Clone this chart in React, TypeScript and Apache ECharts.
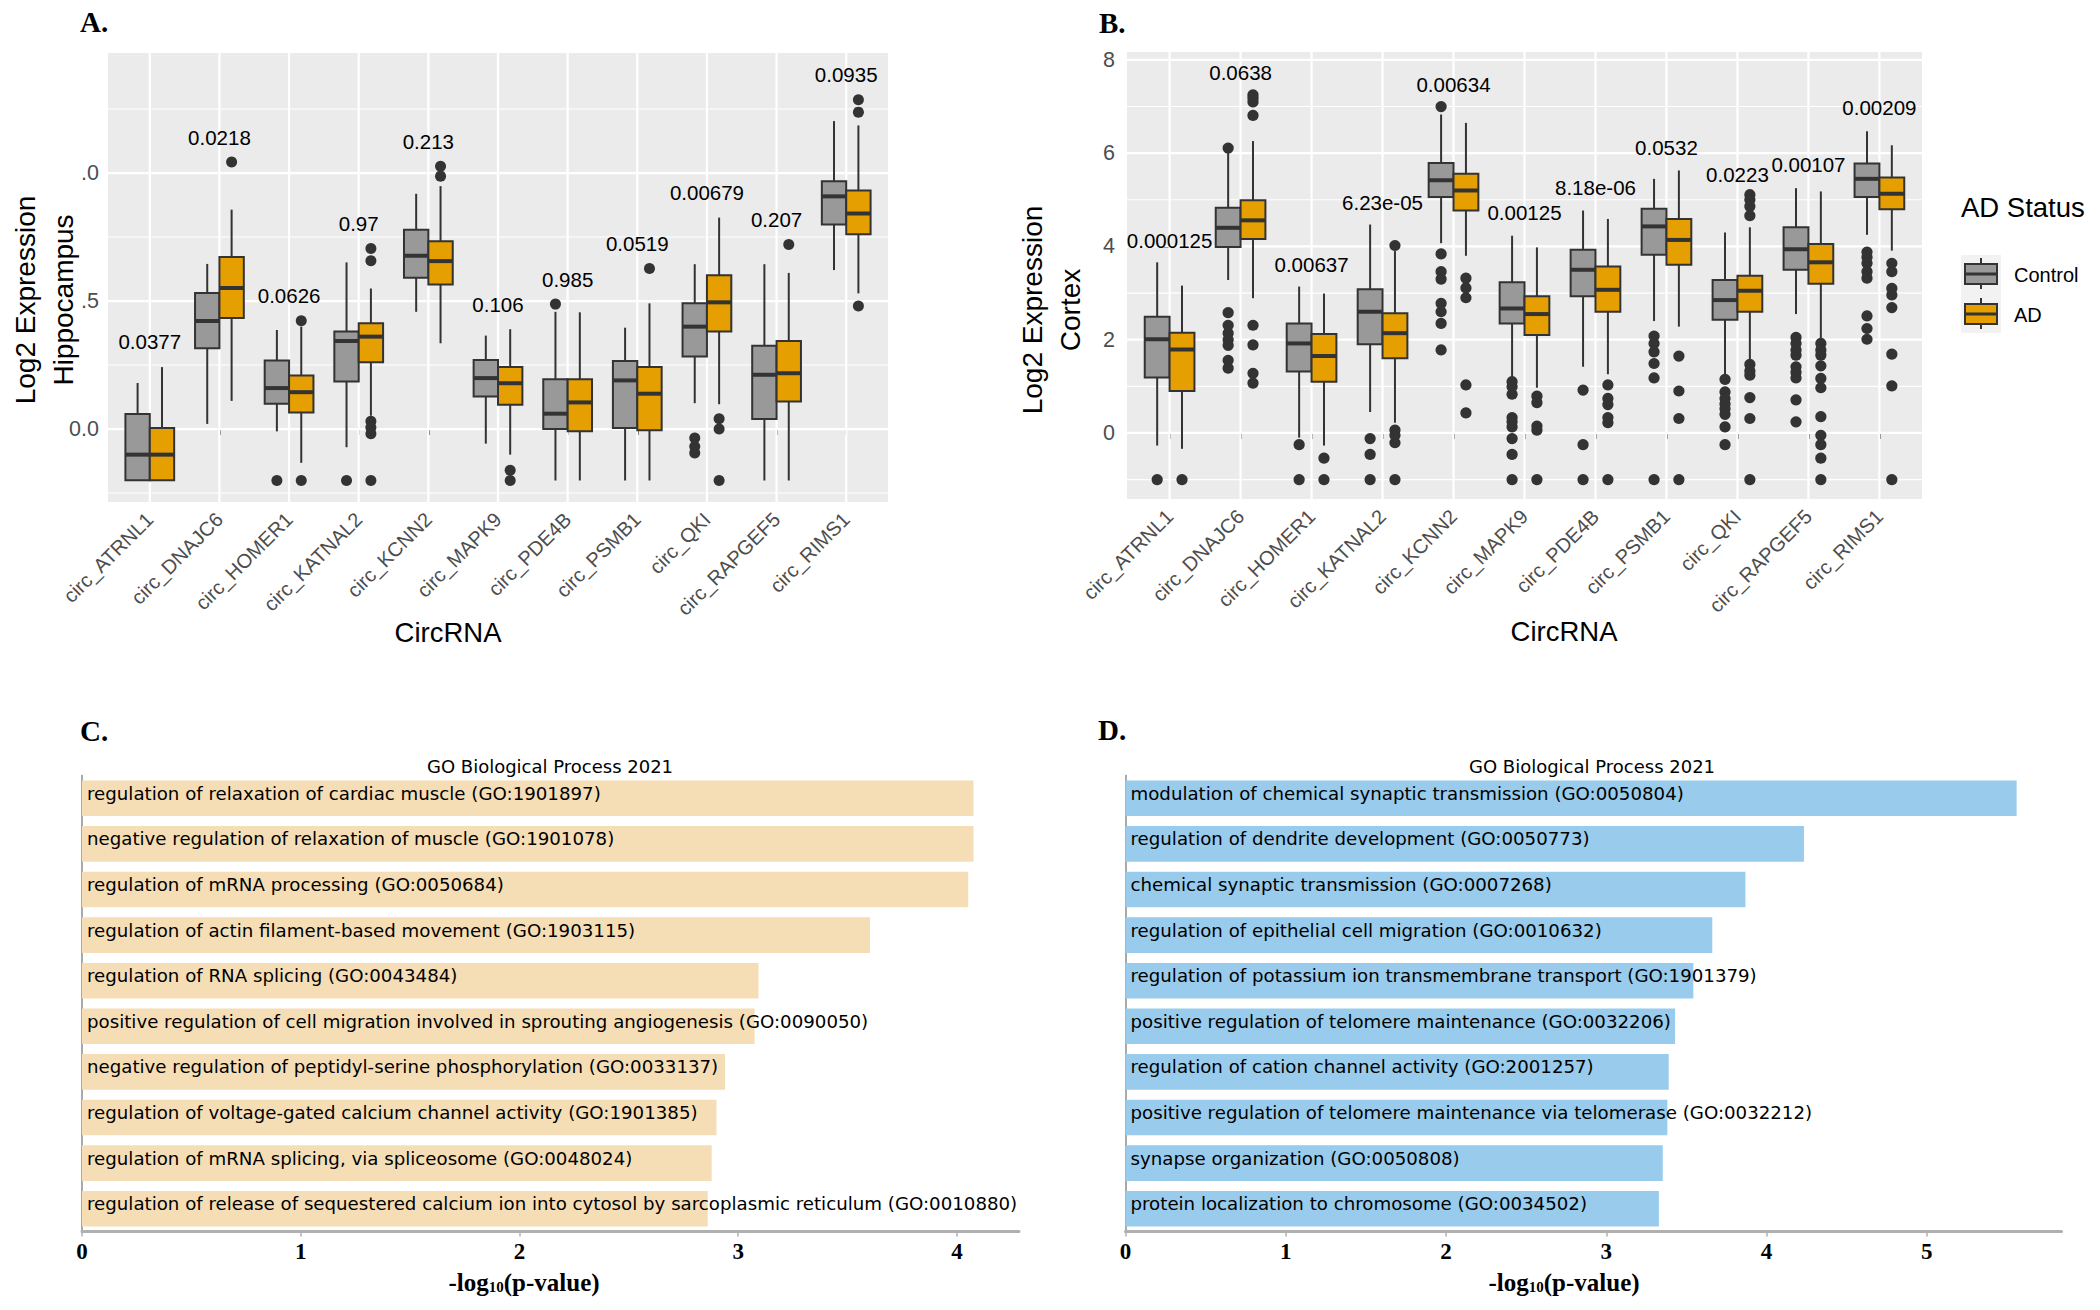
import React, { useEffect, useRef } from 'react';
import * as echarts from 'echarts';

// ---------- Data ----------
const circNames = [
  'circ_ATRNL1', 'circ_DNAJC6', 'circ_HOMER1', 'circ_KATNAL2', 'circ_KCNN2', 'circ_MAPK9',
  'circ_PDE4B', 'circ_PSMB1', 'circ_QKI', 'circ_RAPGEF5', 'circ_RIMS1',
];
const catIdx = [0, 1, 2, 3, 4, 5, 6, 7, 8, 9, 10];

// Panel A (Hippocampus): [lower whisker, Q1, median, Q3, upper whisker]
const hipControl = [
  [-0.2, -0.2, -0.1, 0.059, 0.18],
  [0.02, 0.316, 0.422, 0.531, 0.645],
  [-0.009, 0.099, 0.16, 0.268, 0.387],
  [-0.071, 0.186, 0.344, 0.381, 0.651],
  [0.458, 0.591, 0.677, 0.779, 0.919],
  [-0.057, 0.127, 0.199, 0.27, 0.365],
  [-0.201, 0.0, 0.06, 0.195, 0.458],
  [-0.201, 0.004, 0.19, 0.266, 0.396],
  [0.101, 0.283, 0.4, 0.491, 0.644],
  [-0.201, 0.039, 0.212, 0.325, 0.644],
  [0.621, 0.799, 0.909, 0.968, 1.203],
];
const hipAD = [
  [-0.2, -0.2, -0.1, 0.004, 0.242],
  [0.11, 0.434, 0.551, 0.672, 0.857],
  [-0.132, 0.065, 0.144, 0.209, 0.4],
  [0.052, 0.261, 0.361, 0.413, 0.549],
  [0.335, 0.565, 0.656, 0.734, 0.949],
  [-0.1, 0.095, 0.179, 0.242, 0.39],
  [-0.201, -0.009, 0.104, 0.195, 0.456],
  [-0.201, -0.005, 0.138, 0.242, 0.491],
  [0.097, 0.381, 0.495, 0.601, 0.826],
  [-0.201, 0.108, 0.218, 0.344, 0.61],
  [0.53, 0.761, 0.842, 0.932, 1.186],
];
const hipControlOut = [[], [], [-0.201], [-0.201], [], [], [0.488], [], [-0.035, -0.068, -0.094], [], []];
const hipADOut = [[], [1.043], [0.423, -0.201], [0.705, 0.657, 0.03, 0.006, -0.018, -0.201], [1.027, 0.988], [-0.161, -0.201], [], [0.627], [0.04, 0.0, -0.201], [0.721], [1.286, 1.238, 0.481]];
const hipPLabels = ['0.0377', '0.0218', '0.0626', '0.97', '0.213', '0.106', '0.985', '0.0519', '0.00679', '0.207', '0.0935'];
const hipPLabelY = [0.341, 1.138, 0.521, 0.803, 1.125, 0.487, 0.584, 0.725, 0.926, 0.818, 1.384];
const hipYTicks = [0, 0.5, 1];
const hipYTickLabels = ['0.0', '.5', '.0'];
const hipYMinor = [-0.25, 0.25, 0.75, 1.25];

// Panel B (Cortex)
const ctxControl = [
  [-0.27, 1.19, 2.01, 2.49, 3.66],
  [3.28, 3.99, 4.4, 4.83, 6.0],
  [-0.1, 1.32, 1.92, 2.35, 3.14],
  [0.45, 1.9, 2.6, 3.08, 4.47],
  [4.07, 5.06, 5.42, 5.79, 6.83],
  [1.15, 2.35, 2.67, 3.23, 4.23],
  [1.42, 2.93, 3.5, 3.93, 4.77],
  [2.4, 3.82, 4.43, 4.81, 5.45],
  [1.24, 2.43, 2.85, 3.28, 4.3],
  [2.55, 3.5, 3.94, 4.41, 5.25],
  [4.25, 5.06, 5.45, 5.78, 6.47],
];
const ctxAD = [
  [-0.34, 0.9, 1.79, 2.15, 3.16],
  [2.89, 4.16, 4.56, 4.99, 6.26],
  [-0.27, 1.1, 1.65, 2.12, 2.99],
  [0.22, 1.6, 2.14, 2.57, 3.9],
  [3.8, 4.77, 5.2, 5.56, 6.65],
  [0.97, 2.1, 2.55, 2.93, 3.98],
  [1.26, 2.6, 3.07, 3.57, 4.59],
  [2.28, 3.61, 4.14, 4.59, 5.63],
  [1.53, 2.6, 3.05, 3.37, 4.41],
  [2.01, 3.2, 3.66, 4.05, 5.18],
  [3.91, 4.8, 5.13, 5.48, 6.17],
];
const ctxControlOut = [
  [-1.0],
  [6.11, 2.58, 2.31, 2.14, 2.0, 1.88, 1.56, 1.39],
  [-0.25, -1.0],
  [-0.12, -0.46, -1.0],
  [7.0, 3.84, 3.46, 3.3, 2.78, 2.6, 2.35, 1.78],
  [1.1, 0.99, 0.83, 0.33, 0.24, 0.13, -0.12, -0.46, -1.0],
  [0.92, -0.25, -1.0],
  [2.08, 1.92, 1.74, 1.49, 1.18, -1.0],
  [1.15, 0.88, 0.74, 0.62, 0.52, 0.4, 0.13, -0.25],
  [2.05, 1.92, 1.78, 1.67, 1.42, 1.3, 1.18, 0.71, 0.24],
  [3.88, 3.77, 3.64, 3.46, 3.32, 2.51, 2.24, 2.01],
];
const ctxADOut = [
  [-1.0],
  [7.25, 7.18, 7.1, 6.81, 2.31, 1.89, 1.28, 1.07],
  [-0.54, -1.0],
  [4.02, 0.06, -0.05, -0.21, -1.0],
  [3.32, 3.11, 2.9, 1.03, 0.43],
  [0.79, 0.65, 0.15, 0.06, -1.0],
  [1.03, 0.74, 0.61, 0.33, 0.22, -1.0],
  [1.65, 0.9, 0.31, -1.0],
  [5.11, 5.0, 4.86, 4.66, 1.47, 1.33, 1.24, 0.76, 0.31, -1.0],
  [1.92, 1.78, 1.67, 1.44, 1.17, 0.97, 0.35, -0.05, -0.25, -0.54, -1.0],
  [3.64, 3.46, 3.1, 2.96, 2.69, 1.69, 1.01, -1.0],
];
const ctxPLabels = ['0.000125', '0.0638', '0.00637', '6.23e-05', '0.00634', '0.00125', '8.18e-06', '0.0532', '0.0223', '0.00107', '0.00209'];
const ctxPLabelY = [4.13, 7.73, 3.62, 4.95, 7.48, 4.72, 5.27, 6.13, 5.54, 5.76, 6.97];
const ctxYTicks = [0, 2, 4, 6, 8];
const ctxYTickLabels = ['0', '2', '4', '6', '8'];
const ctxYMinor = [-1, 1, 3, 5, 7];

// Panels C / D (GO Biological Process 2021)
const goTermsC = [
  'regulation of relaxation of cardiac muscle (GO:1901897)',
  'negative regulation of relaxation of muscle (GO:1901078)',
  'regulation of mRNA processing (GO:0050684)',
  'regulation of actin filament-based movement (GO:1903115)',
  'regulation of RNA splicing (GO:0043484)',
  'positive regulation of cell migration involved in sprouting angiogenesis (GO:0090050)',
  'negative regulation of peptidyl-serine phosphorylation (GO:0033137)',
  'regulation of voltage-gated calcium channel activity (GO:1901385)',
  'regulation of mRNA splicing, via spliceosome (GO:0048024)',
  'regulation of release of sequestered calcium ion into cytosol by sarcoplasmic reticulum (GO:0010880)',
];
const goValuesC = [4.076, 4.076, 4.052, 3.603, 3.093, 3.075, 2.94, 2.901, 2.879, 2.861];
const goTermsD = [
  'modulation of chemical synaptic transmission (GO:0050804)',
  'regulation of dendrite development (GO:0050773)',
  'chemical synaptic transmission (GO:0007268)',
  'regulation of epithelial cell migration (GO:0010632)',
  'regulation of potassium ion transmembrane transport (GO:1901379)',
  'positive regulation of telomere maintenance (GO:0032206)',
  'regulation of cation channel activity (GO:2001257)',
  'positive regulation of telomere maintenance via telomerase (GO:0032212)',
  'synapse organization (GO:0050808)',
  'protein localization to chromosome (GO:0034502)',
];
const goValuesD = [5.56, 4.233, 3.868, 3.661, 3.543, 3.429, 3.389, 3.381, 3.352, 3.328];
const goTicksC = [0, 1, 2, 3, 4];
const goTicksD = [0, 1, 2, 3, 4, 5];

// ---------- Helpers ----------
const SANS = 'Liberation Sans';
const SERIF = 'Liberation Serif';
const fills = ['#999999', '#E69F00'];
const X_RANGE = [-0.6, 10.6];
const yRangeA = [-0.285, 1.469];
const yRangeB = [-1.416, 8.17];

const boxData = (ctrl: number[][], ad: number[][]) => {
  const out: number[][] = [];
  ctrl.forEach((b, i) => out.push([i, 0, ...b]));
  ad.forEach((b, i) => out.push([i, 1, ...b]));
  return out;
};
const outData = (ctrl: number[][], ad: number[][]) => {
  const out: number[][] = [];
  ctrl.forEach((arr, i) => arr.forEach((v) => out.push([i, 0, v])));
  ad.forEach((arr, i) => arr.forEach((v) => out.push([i, 1, v])));
  return out;
};
const gridData = (major: number[], minor: number[]) => {
  const out: number[][] = [];
  minor.forEach((v) => out.push([0, v, 1.1]));
  major.forEach((v) => out.push([0, v, 2.2]));
  catIdx.forEach((v) => out.push([1, v, 2.2]));
  return out;
};

const BOX_FRAC = 0.35;

const boxRender = (params: any, api: any) => {
  const i = api.value(0);
  const g = api.value(1);
  const unit = api.size([1, 0])[0];
  const w = BOX_FRAC * unit;
  const cx = api.coord([i, 0])[0] + (g === 0 ? -w / 2 : w / 2);
  const y = (v: number) => api.coord([i, v])[1];
  const lo = y(api.value(2));
  const q1 = y(api.value(3));
  const md = y(api.value(4));
  const q3 = y(api.value(5));
  const hi = y(api.value(6));
  const stroke = '#333333';
  return {
    type: 'group',
    children: [
      { type: 'line', shape: { x1: cx, y1: hi, x2: cx, y2: q3 }, style: { stroke, lineWidth: 2 } },
      { type: 'line', shape: { x1: cx, y1: q1, x2: cx, y2: lo }, style: { stroke, lineWidth: 2 } },
      {
        type: 'rect',
        shape: { x: cx - w / 2, y: q3, width: w, height: Math.max(q1 - q3, 0.5) },
        style: { fill: fills[g], stroke, lineWidth: 2 },
      },
      { type: 'line', shape: { x1: cx - w / 2, y1: md, x2: cx + w / 2, y2: md }, style: { stroke, lineWidth: 4 } },
    ],
  };
};

const outRender = (r: number) => (params: any, api: any) => {
  const i = api.value(0);
  const g = api.value(1);
  const unit = api.size([1, 0])[0];
  const w = BOX_FRAC * unit;
  const p = api.coord([i, api.value(2)]);
  return {
    type: 'circle',
    shape: { cx: p[0] + (g === 0 ? -w / 2 : w / 2), cy: p[1], r },
    style: { fill: '#333333' },
  };
};

const gridRender = (yr: number[]) => (params: any, api: any) => {
  const kind = api.value(0);
  const v = api.value(1);
  const lw = api.value(2);
  let p1, p2;
  if (kind === 0) {
    p1 = api.coord([X_RANGE[0], v]);
    p2 = api.coord([X_RANGE[1], v]);
  } else {
    p1 = api.coord([v, yr[0]]);
    p2 = api.coord([v, yr[1]]);
  }
  return {
    type: 'line',
    shape: { x1: p1[0], y1: p1[1], x2: p2[0], y2: p2[1] },
    style: { stroke: '#FFFFFF', lineWidth: lw },
    silent: true,
  };
};

const labelRender = (labels: string[]) => (params: any, api: any) => {
  const p = api.coord([api.value(0), api.value(1)]);
  return {
    type: 'text',
    x: p[0],
    y: p[1],
    style: {
      text: labels[params.dataIndex],
      fontSize: 20.5,
      fontFamily: SANS,
      fill: '#000000',
      align: 'center',
      verticalAlign: 'middle',
    },
  };
};

const boxXAxis = (gridIndex: number) => ({
  type: 'value',
  gridIndex,
  min: X_RANGE[0],
  max: X_RANGE[1],
  axisLine: { show: false },
  axisTick: { show: true, customValues: catIdx, length: 6, lineStyle: { color: '#333333', width: 2 } },
  axisLabel: {
    show: true,
    customValues: catIdx,
    formatter: (v: number) => circNames[Math.round(v)] || '',
    rotate: 45,
    fontSize: 20,
    color: '#4D4D4D',
    fontFamily: SANS,
    margin: 14,
  },
  splitLine: { show: false },
});

const boxYAxis = (gridIndex: number, yr: number[], ticks: number[], labels: string[], margin: number) => ({
  type: 'value',
  gridIndex,
  min: yr[0],
  max: yr[1],
  axisLine: { show: false },
  axisTick: { show: true, customValues: ticks, length: 6, lineStyle: { color: '#333333', width: 2 } },
  axisLabel: {
    show: true,
    customValues: ticks,
    formatter: (v: number) => {
      const k = ticks.findIndex((t) => Math.abs(t - v) < 1e-9);
      return k >= 0 ? labels[k] : '';
    },
    fontSize: 21.5,
    color: '#4D4D4D',
    fontFamily: SANS,
    margin,
  },
  splitLine: { show: false },
});

const goXAxis = (gridIndex: number, max: number, ticks: number[]) => ({
  type: 'value',
  gridIndex,
  min: 0,
  max,
  axisLine: { show: true, lineStyle: { color: '#B0B0B0', width: 3 } },
  axisTick: { show: true, customValues: ticks, length: 5, lineStyle: { color: '#B0B0B0', width: 1.5 } },
  axisLabel: {
    show: true,
    customValues: ticks,
    fontFamily: SERIF,
    fontWeight: 'bold',
    fontSize: 23,
    color: '#000000',
    margin: 8,
  },
  splitLine: { show: false },
});

const goYAxis = (gridIndex: number, terms: string[]) => ({
  type: 'category',
  gridIndex,
  data: terms,
  inverse: true,
  axisLine: { show: true, lineStyle: { color: '#8C8C8C', width: 1.5 } },
  axisTick: { show: false },
  axisLabel: { show: false },
  splitLine: { show: false },
});

const goBar = (idx: number, values: number[], color: string) => ({
  type: 'bar',
  xAxisIndex: idx,
  yAxisIndex: idx,
  data: values,
  barCategoryGap: '22%',
  itemStyle: { color },
  label: {
    show: true,
    position: 'insideLeft',
    distance: 5,
    offset: [0, -5],
    formatter: '{b}',
    fontFamily: 'DejaVu Sans',
    fontSize: 18.2,
    color: '#000000',
    overflow: 'none',
  },
  silent: true,
});

const txt = (x: number, y: number, text: string, opts: any = {}) => ({
  type: 'text',
  x,
  y,
  silent: true,
  ...(opts.rotation !== undefined ? { rotation: opts.rotation } : {}),
  style: {
    text,
    fontFamily: opts.fontFamily || SANS,
    fontSize: opts.fontSize || 20,
    fontWeight: opts.fontWeight || 'normal',
    fill: opts.fill || '#000000',
    align: opts.align || 'center',
    verticalAlign: 'middle',
    lineHeight: opts.lineHeight,
  },
});

const logTitle = (x: number, y: number) => ({
  type: 'text',
  x,
  y,
  silent: true,
  style: {
    text: '{a|-log}{b|10}{a|(p-value)}',
    align: 'center',
    verticalAlign: 'middle',
    rich: {
      a: { fontFamily: SERIF, fontWeight: 'bold', fontSize: 25, fill: '#000000' },
      b: { fontFamily: SERIF, fontWeight: 'bold', fontSize: 15, fill: '#000000', verticalAlign: 'bottom', padding: [6, 0, 0, 0] },
    },
  },
});

const legendKey = (y0: number, fill: string) => [
  { type: 'line', shape: { x1: 1981, y1: y0 - 6, x2: 1981, y2: y0 + 25 }, style: { stroke: '#333333', lineWidth: 2 } },
  { type: 'rect', shape: { x: 1965, y: y0, width: 32, height: 20 }, style: { fill, stroke: '#333333', lineWidth: 2 } },
  { type: 'line', shape: { x1: 1965, y1: y0 + 10, x2: 1997, y2: y0 + 10 }, style: { stroke: '#333333', lineWidth: 3 } },
];

export default function App() {
  const ref = useRef<HTMLDivElement>(null);

  useEffect(() => {
    if (!ref.current) return;
    const chart = echarts.init(ref.current, null, { renderer: 'svg' });

    const option: any = {
      animation: false,
      backgroundColor: '#FFFFFF',
      grid: [
        { left: 108, top: 53, width: 780, height: 449, show: true, backgroundColor: '#EBEBEB', borderWidth: 0 },
        { left: 1127, top: 52, width: 795, height: 447, show: true, backgroundColor: '#EBEBEB', borderWidth: 0 },
        { left: 82, top: 775.5, width: 937, height: 456 },
        { left: 1125.5, top: 775.5, width: 936, height: 456 },
      ],
      xAxis: [
        boxXAxis(0),
        boxXAxis(1),
        goXAxis(2, 4.284, goTicksC),
        goXAxis(3, 5.84, goTicksD),
      ],
      yAxis: [
        boxYAxis(0, yRangeA, hipYTicks, hipYTickLabels, 9),
        boxYAxis(1, yRangeB, ctxYTicks, ctxYTickLabels, 12),
        goYAxis(2, goTermsC),
        goYAxis(3, goTermsD),
      ],
      series: [
        // Panel A
        { type: 'custom', xAxisIndex: 0, yAxisIndex: 0, data: gridData(hipYTicks, hipYMinor), renderItem: gridRender(yRangeA), silent: true, z: 1 },
        { type: 'custom', xAxisIndex: 0, yAxisIndex: 0, data: boxData(hipControl, hipAD), renderItem: boxRender, silent: true, z: 2 },
        { type: 'custom', xAxisIndex: 0, yAxisIndex: 0, data: outData(hipControlOut, hipADOut), renderItem: outRender(5.5), silent: true, z: 3 },
        { type: 'custom', xAxisIndex: 0, yAxisIndex: 0, data: hipPLabelY.map((v, i) => [i, v]), renderItem: labelRender(hipPLabels), silent: true, z: 4 },
        // Panel B
        { type: 'custom', xAxisIndex: 1, yAxisIndex: 1, data: gridData(ctxYTicks, ctxYMinor), renderItem: gridRender(yRangeB), silent: true, z: 1 },
        { type: 'custom', xAxisIndex: 1, yAxisIndex: 1, data: boxData(ctxControl, ctxAD), renderItem: boxRender, silent: true, z: 2 },
        { type: 'custom', xAxisIndex: 1, yAxisIndex: 1, data: outData(ctxControlOut, ctxADOut), renderItem: outRender(5.6), silent: true, z: 3 },
        { type: 'custom', xAxisIndex: 1, yAxisIndex: 1, data: ctxPLabelY.map((v, i) => [i, v]), renderItem: labelRender(ctxPLabels), silent: true, z: 4 },
        // Panels C, D
        goBar(2, goValuesC, '#F5DEB6'),
        goBar(3, goValuesD, '#98CBEC'),
      ],
      graphic: [
        // panel letters
        txt(80, 22, 'A.', { fontFamily: SERIF, fontWeight: 'bold', fontSize: 29, align: 'left' }),
        txt(1099, 23, 'B.', { fontFamily: SERIF, fontWeight: 'bold', fontSize: 29, align: 'left' }),
        txt(80, 731, 'C.', { fontFamily: SERIF, fontWeight: 'bold', fontSize: 29, align: 'left' }),
        txt(1098, 730, 'D.', { fontFamily: SERIF, fontWeight: 'bold', fontSize: 29, align: 'left' }),
        // axis titles A / B
        txt(44, 300, 'Log2 Expression\nHippocampus', { fontSize: 28, rotation: Math.PI / 2, lineHeight: 38 }),
        txt(1051, 310, 'Log2 Expression\nCortex', { fontSize: 28, rotation: Math.PI / 2, lineHeight: 38 }),
        txt(448, 632, 'CircRNA', { fontSize: 27.5 }),
        txt(1564, 631, 'CircRNA', { fontSize: 27.5 }),
        // legend
        txt(1961, 207, 'AD Status', { fontSize: 27.5, align: 'left' }),
        { type: 'rect', shape: { x: 1961, y: 255, width: 40, height: 78 }, style: { fill: '#F2F2F2' }, silent: true },
        ...legendKey(264, fills[0]),
        ...legendKey(304, fills[1]),
        txt(2014, 275, 'Control', { fontSize: 20, align: 'left' }),
        txt(2014, 315, 'AD', { fontSize: 20, align: 'left' }),
        // GO titles
        txt(550, 766, 'GO Biological Process 2021', { fontFamily: 'DejaVu Sans', fontSize: 18 }),
        txt(1592, 766, 'GO Biological Process 2021', { fontFamily: 'DejaVu Sans', fontSize: 18 }),
        logTitle(524, 1282),
        logTitle(1564, 1282),
      ],
    };

    chart.setOption(option);
    return () => {
      chart.dispose();
    };
  }, []);

  return (
    <div
      ref={ref}
      style={{ position: 'absolute', left: 0, top: 0, width: 2100, height: 1310, background: '#FFFFFF' }}
    />
  );
}
